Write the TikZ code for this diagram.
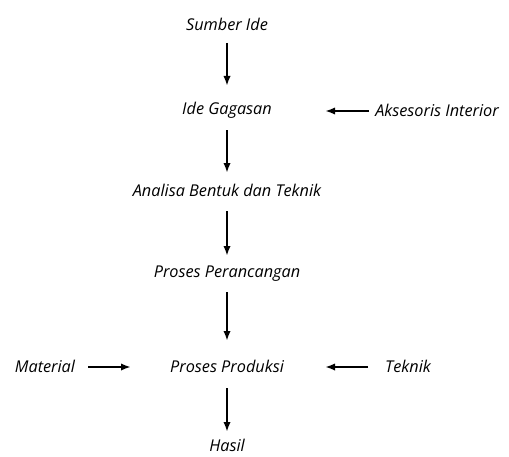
\documentclass[tikz,border=0pt]{standalone}
\usepackage{fontspec}
\setmainfont{Open Sans}
\usetikzlibrary{arrows.meta}
\begin{document}
\begin{tikzpicture}[x=0.75pt,y=-0.75pt,
  lbl/.style={font=\itshape\fontsize{12.2}{14}\selectfont, inner sep=0pt},
  arr/.style={-{Latex[length=7.5pt,width=5.5pt]}, line width=1.6pt}]
\useasboundingbox (0,0) rectangle (509,456);
\node[lbl] (s) at (227,24) {Sumber Ide};
\node[lbl] (i) at (227,110) {Ide Gagasan};
\node[lbl] (a) at (437,110) {Aksesoris Interior};
\node[lbl] (b) at (227,190) {Analisa Bentuk dan Teknik};
\node[lbl] (p) at (227,274) {Proses Perancangan};
\node[lbl] (pp) at (227,366) {Proses Produksi};
\node[lbl] (m) at (45,366) {Material};
\node[lbl] (t) at (408,366) {Teknik};
\node[lbl] (h) at (227,445) {Hasil};
\coordinate (s1) at (227,43); \coordinate (s2) at (227,86);
\coordinate (i1) at (227,130); \coordinate (i2) at (227,173);
\coordinate (b1) at (227,211); \coordinate (b2) at (227,256);
\coordinate (p1) at (227,292); \coordinate (p2) at (227,341);
\coordinate (q1) at (227,388); \coordinate (q2) at (227,432);
\coordinate (a1) at (369,111); \coordinate (a2) at (325,111);
\coordinate (m1) at (88,367); \coordinate (m2) at (131,367);
\coordinate (t1) at (368,367); \coordinate (t2) at (325,367);
\draw[arr] (s1) -- (s2);
\draw[arr] (i1) -- (i2);
\draw[arr] (b1) -- (b2);
\draw[arr] (p1) -- (p2);
\draw[arr] (q1) -- (q2);
\draw[arr] (a1) -- (a2);
\draw[arr] (m1) -- (m2);
\draw[arr] (t1) -- (t2);
\end{tikzpicture}
\end{document}
